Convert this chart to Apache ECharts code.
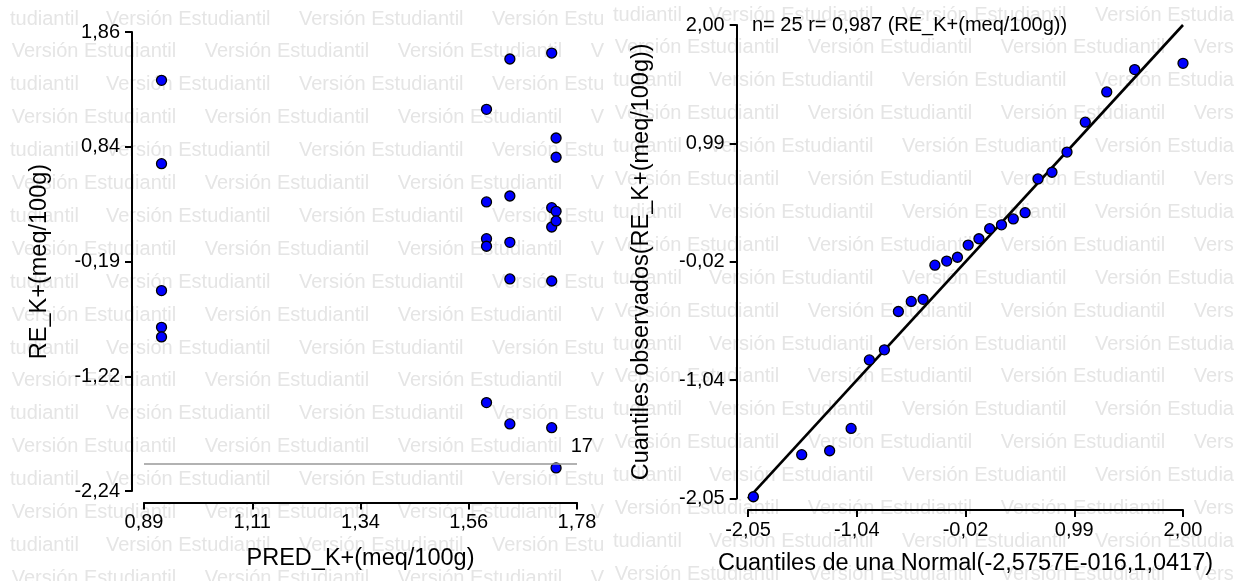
<!DOCTYPE html>
<html><head><meta charset="utf-8">
<script src="https://cdn.jsdelivr.net/npm/echarts@6/dist/echarts.min.js"></script>
<style>html,body{margin:0;padding:0;background:#fff}#c{width:1237px;height:581px}</style>
</head><body><div id="c"></div>
<script>
// ---------- data ----------
const predicted = [0.926,0.926,0.926,0.926,0.926, 1.594,1.594,1.594,1.594,1.594, 1.642,1.642,1.642,1.642,1.642, 1.728,1.728,1.728,1.728,1.728, 1.737,1.737,1.737,1.737,1.737];
const residuals = [1.428,0.684,-0.450,-0.778,-0.864, 1.169,0.342,0.014,-0.054,-1.450, 1.619,0.395,-0.019,-0.346,-1.641, 1.672,0.291,0.118,-0.364,-1.674, 0.913,0.741,0.258,0.172,-2.034];
const outlierLabel = '17';
const refLineValue = -2.0;
const leftXTicks = [0.89, 1.1125, 1.335, 1.5575, 1.78];
const leftXTickLabels = ['0,89','1,11','1,34','1,56','1,78'];
const leftYTicks = [-2.24, -1.215, -0.19, 0.835, 1.86];
const leftYTickLabels = ['-2,24','-1,22','-0,19','0,84','1,86'];
const leftXName = 'PRED_K+(meq/100g)';
const leftYName = 'RE_K+(meq/100g)';

const qqTheoretical = [-2.00,-1.55,-1.29,-1.09,-0.92,-0.78,-0.65,-0.53,-0.42,-0.31,-0.20,-0.10,0.00,0.10,0.20,0.31,0.42,0.53,0.65,0.78,0.92,1.09,1.29,1.55,2.00];
const qqObserved = [-2.034,-1.674,-1.641,-1.450,-0.864,-0.778,-0.450,-0.364,-0.346,-0.054,-0.019,0.014,0.118,0.172,0.258,0.291,0.342,0.395,0.684,0.741,0.913,1.169,1.428,1.619,1.672];
const fitLineX = [-2.05, 2.00];
const fitLineY = [-2.05, 2.00];
const rightTicks = [-2.05, -1.0375, -0.025, 0.9875, 2.00];
const rightTickLabels = ['-2,05','-1,04','-0,02','0,99','2,00'];
const rightXName = 'Cuantiles de una Normal(-2,5757E-016,1,0417)';
const rightYName = 'Cuantiles observados(RE_K+(meq/100g))';
const statsText = 'n= 25 r= 0,987 (RE_K+(meq/100g))';
const watermarkText = 'Versión Estudiantil';
const watermarkTail = 'tudiantil';

// ---------- helpers ----------
const FONT = "'Liberation Sans', Arial, Helvetica, sans-serif";
function fmt(ticks, labels) {
  return function (v) {
    let b = 0;
    for (let i = 1; i < ticks.length; i++) if (Math.abs(ticks[i] - v) < Math.abs(ticks[b] - v)) b = i;
    return labels[b];
  };
}
function axis(opts) {
  const { ticks, labels, margin } = opts;
  return {
    type: 'value',
    scale: true,
    axisLine: { show: true, onZero: false, lineStyle: { color: '#000', width: 2 } },
    axisTick: { show: true, inside: false, length: 7, customValues: ticks, lineStyle: { color: '#000', width: 2 } },
    axisLabel: { customValues: ticks, formatter: fmt(ticks, labels), color: '#000', fontSize: 20, fontFamily: FONT, margin: margin, hideOverlap: false },
    splitLine: { show: false },
    nameLocation: 'middle',
    nameTextStyle: { color: '#000', fontSize: 23.5, fontFamily: FONT }
  };
}

// ---------- watermark ----------
const wm = [];
const rowStep = 32.9, colStep = 193;
function addTile(x1, phaseX, dy) {
  for (let k = 0; k < 18; k++) {
    const y = 19 + dy + k * rowStep;
    const items = [];
    if (k % 2 === 0) {
      items.push([watermarkTail, phaseX + 10]);
      for (let s = phaseX + 10 - 97 + colStep; s < x1 - 4; s += colStep) items.push([watermarkText, s]);
    } else {
      for (let s = phaseX + 11.7; s < x1 - 4; s += colStep) items.push([watermarkText, s]);
    }
    items.forEach(([t, s]) => {
      wm.push({
        type: 'text', x: s, y: y, silent: true, z: -10,
        style: { text: t, font: '20px ' + FONT, fill: '#e5e5e5', textVerticalAlign: 'middle', verticalAlign: 'middle',
                 width: x1 - s, overflow: 'truncate', ellipsis: '' }
      });
    });
  }
}
addTile(612, 0, 0);
addTile(1237, 603, -4);

// ---------- series data ----------
let minIdx = 0;
residuals.forEach((v, i) => { if (v < residuals[minIdx]) minIdx = i; });
const leftData = predicted.map((x, i) => {
  const d = { value: [x, residuals[i]] };
  if (i === minIdx) d.label = { show: true, formatter: outlierLabel, position: 'right', offset: [4, -21], color: '#000', fontSize: 20, fontFamily: FONT };
  return d;
});
const qqData = qqTheoretical.map((x, i) => [x, qqObserved[i]]);
const lineData = fitLineX.map((x, i) => [x, fitLineY[i]]);

const pointStyle = { color: '#0000ff', borderColor: '#000', borderWidth: 1.3, opacity: 1 };

const option = {
  animation: false,
  backgroundColor: '#fff',
  textStyle: { fontFamily: FONT },
  title: { text: statsText, left: 752, top: 15, padding: 0,
           textStyle: { fontSize: 20, fontWeight: 'normal', color: '#000', fontFamily: FONT } },
  graphic: { elements: wm },
  grid: [
    { left: 144, right: 660, top: 32, bottom: 90 },
    { left: 748, right: 54, top: 25, bottom: 80 }
  ],
  xAxis: [
    Object.assign(axis({ ticks: leftXTicks, labels: leftXTickLabels, margin: 10 }),
      { gridIndex: 0, min: 0.89, max: 1.78, offset: 11.5, name: leftXName, nameGap: 44 }),
    Object.assign(axis({ ticks: rightTicks, labels: rightTickLabels, margin: 10 }),
      { gridIndex: 1, min: -2.05, max: 2.00, offset: 11.4, name: rightXName, nameGap: 42 })
  ],
  yAxis: [
    Object.assign(axis({ ticks: leftYTicks, labels: leftYTickLabels, margin: 12 }),
      { gridIndex: 0, min: -2.24, max: 1.86, offset: 12, name: leftYName, nameGap: 80 }),
    Object.assign(axis({ ticks: rightTicks, labels: rightTickLabels, margin: 12 }),
      { gridIndex: 1, min: -2.05, max: 2.00, offset: 11.3, name: rightYName, nameGap: 83 })
  ],
  series: [
    { type: 'scatter', xAxisIndex: 0, yAxisIndex: 0, data: leftData, symbol: 'circle', symbolSize: 10,
      itemStyle: pointStyle, z: 3,
      markLine: { silent: true, symbol: 'none', label: { show: false },
                  lineStyle: { color: '#999', width: 1.5, type: 'solid' }, data: [{ yAxis: refLineValue }] } },
    { type: 'line', xAxisIndex: 1, yAxisIndex: 1, data: lineData, showSymbol: false, symbol: 'none',
      lineStyle: { color: '#000', width: 2.6 }, z: 2 },
    { type: 'scatter', xAxisIndex: 1, yAxisIndex: 1, data: qqData, symbol: 'circle', symbolSize: 10,
      itemStyle: pointStyle, z: 3 }
  ]
};
const chart = echarts.init(document.getElementById('c'), null, { renderer: 'canvas' });
chart.setOption(option);
</script>
</body></html>
